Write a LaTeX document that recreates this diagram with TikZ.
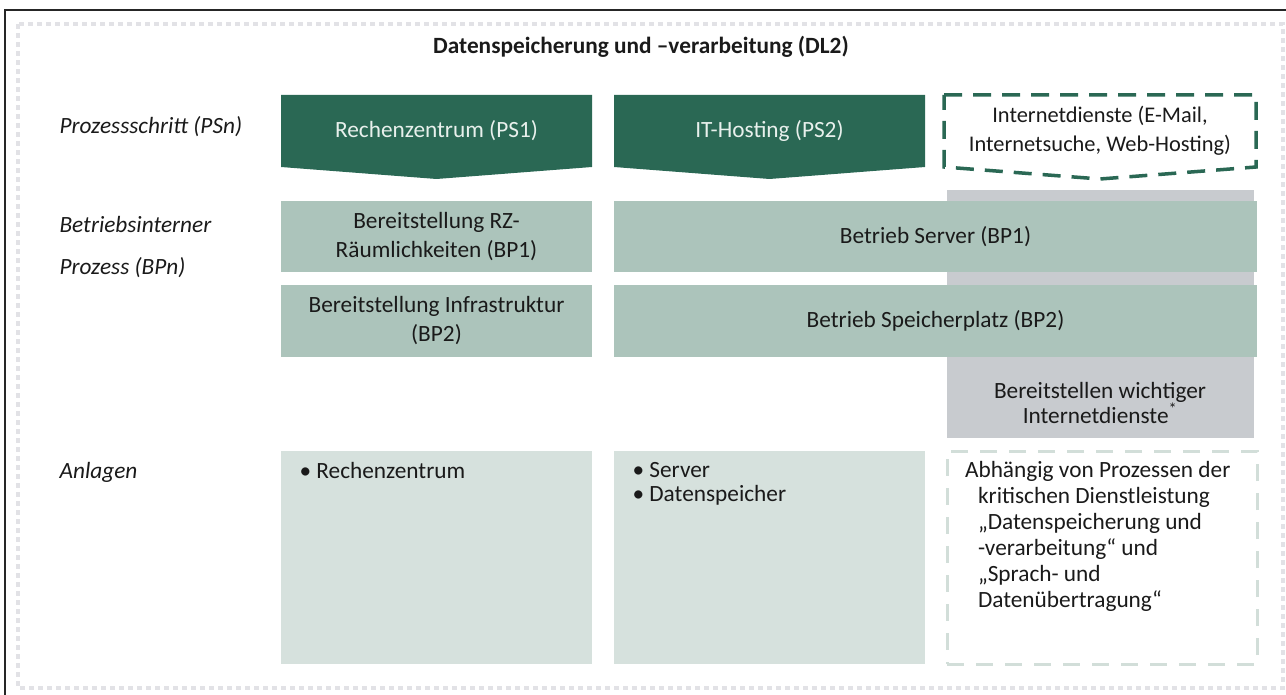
\documentclass[tikz,border=0pt]{standalone}
\usepackage{fontspec}
\setmainfont{Carlito}
\usepackage{tikz}
\usetikzlibrary{calc,backgrounds,positioning}
\definecolor{psgreen}{RGB}{42,104,84}
\definecolor{pstext}{RGB}{232,240,236}
\definecolor{bpgreen}{RGB}{172,196,187}
\definecolor{anlgreen}{RGB}{214,225,221}
\definecolor{greycol}{RGB}{200,203,207}
\definecolor{dashlight}{RGB}{210,222,217}
\definecolor{dotgrey}{RGB}{226,226,230}
\definecolor{textdark}{RGB}{26,26,26}

\begin{document}
\begin{tikzpicture}[x=1pt, y=-1pt,
  every node/.style={font=\fontsize{23.3}{29}\selectfont, text=textdark},
  psbox/.style={inner sep=0pt, outer sep=0pt, minimum width=311pt, minimum height=72pt,
                align=center, text=pstext},
  bpbox/.style={fill=bpgreen, inner sep=0pt, outer sep=0pt, minimum height=71pt, align=center},
  anlbox/.style={fill=anlgreen, inner sep=0pt, outer sep=0pt, minimum width=311pt, minimum height=213pt},
  rowlabel/.style={anchor=west, font=\fontsize{23.3}{42}\selectfont\itshape, align=left},
  itemtext/.style={anchor=north west, align=left, font=\fontsize{23.3}{24}\selectfont}]
  \useasboundingbox (0,0) rectangle (1286,695);

  % frame
  \draw[black!85, line width=1.2pt] (5,695) -- (5,10) -- (1286,10);
  \draw[dotgrey, line width=4pt, dash pattern=on 5pt off 4pt] (18,24) rectangle (1283,688);

  \node[font=\fontsize{23.3}{26}\selectfont\bfseries] (title) at (641,47)
      {Datenspeicherung und –verarbeitung (DL2)};

  % row labels
  \node[rowlabel] (lps) at (56,127) {Prozessschritt (PSn)};
  \node[rowlabel] (lbp) at (56,247) {Betriebsinterner\\Prozess (BPn)};
  \node[rowlabel] (lanl) at (56,472) {Anlagen};

  % process steps
  \node[psbox] (ps1) at (436.5,131) {Rechenzentrum (PS1)};
  \node[psbox] (ps2) at (769.5,131) {IT-Hosting (PS2)};
  \node[psbox, minimum width=312pt, text=textdark, font=\fontsize{22.4}{29}\selectfont]
      (inet) at (1100,131) {Internetdienste (E-Mail,\\Internetsuche, Web-Hosting)};
  \begin{scope}[on background layer]
    \foreach \ps in {ps1,ps2}
      \fill[psgreen] (\ps.north west) -- (\ps.north east) -- (\ps.south east)
        -- ($(\ps.south)+(0,12)$) -- (\ps.south west) -- cycle;
  \end{scope}
  \draw[psgreen, line width=3.5pt, dash pattern=on 18pt off 11pt]
    (inet.north west) -- (inet.north east) -- (inet.south east)
    -- ($(inet.south)+(0,12)$) -- (inet.south west) -- cycle;

  % internal processes
  \node[fill=greycol, inner sep=0pt, minimum width=307pt, minimum height=248pt]
      (inetcol) at (1100.5,314) {};
  \node[bpbox, minimum width=311pt] (bp1) at (436.5,236.5) {Bereitstellung RZ-\\Räumlichkeiten (BP1)};
  \node[bpbox, minimum width=311pt] (bp2) at (436.5,321) {Bereitstellung Infrastruktur\\(BP2)};
  \node[bpbox, minimum width=643pt] (srv) at (935.5,236.5) {Betrieb Server (BP1)};
  \node[bpbox, minimum width=643pt] (spk) at (935.5,321) {Betrieb Speicherplatz (BP2)};
  \node[align=center, font=\fontsize{23.3}{25}\selectfont] (inettxt) at (1100,403)
      {Bereitstellen wichtiger\\Internetdienste\textsuperscript{*}};

  % assets
  \node[anlbox] (anl1) at (436.5,557.5) {};
  \node[anlbox] (anl2) at (769.5,557.5) {};
  \node[inner sep=0pt, minimum width=310pt, minimum height=213pt, draw=dashlight,
        line width=3pt, dash pattern=on 17pt off 12pt] (dep) at (1102,557.5) {};
  \node[itemtext] (anl1txt) at ([xshift=15pt, yshift=-8pt]anl1.north west) {• Rechenzentrum};
  \node[itemtext] (anl2txt) at ([xshift=15pt, yshift=-8pt]anl2.north west) {• Server\\• Datenspeicher};
  \node[itemtext, font=\fontsize{23.3}{26}\selectfont] (deptxt) at ([xshift=16pt, yshift=-8pt]dep.north west)
      {Abhängig von Prozessen der\\
       \hspace*{13pt}kritischen Dienstleistung\\
       \hspace*{13pt}„Datenspeicherung und\\
       \hspace*{13pt}-verarbeitung“ und\\
       \hspace*{13pt}„Sprach- und\\
       \hspace*{13pt}Datenübertragung“};
\end{tikzpicture}
\end{document}
